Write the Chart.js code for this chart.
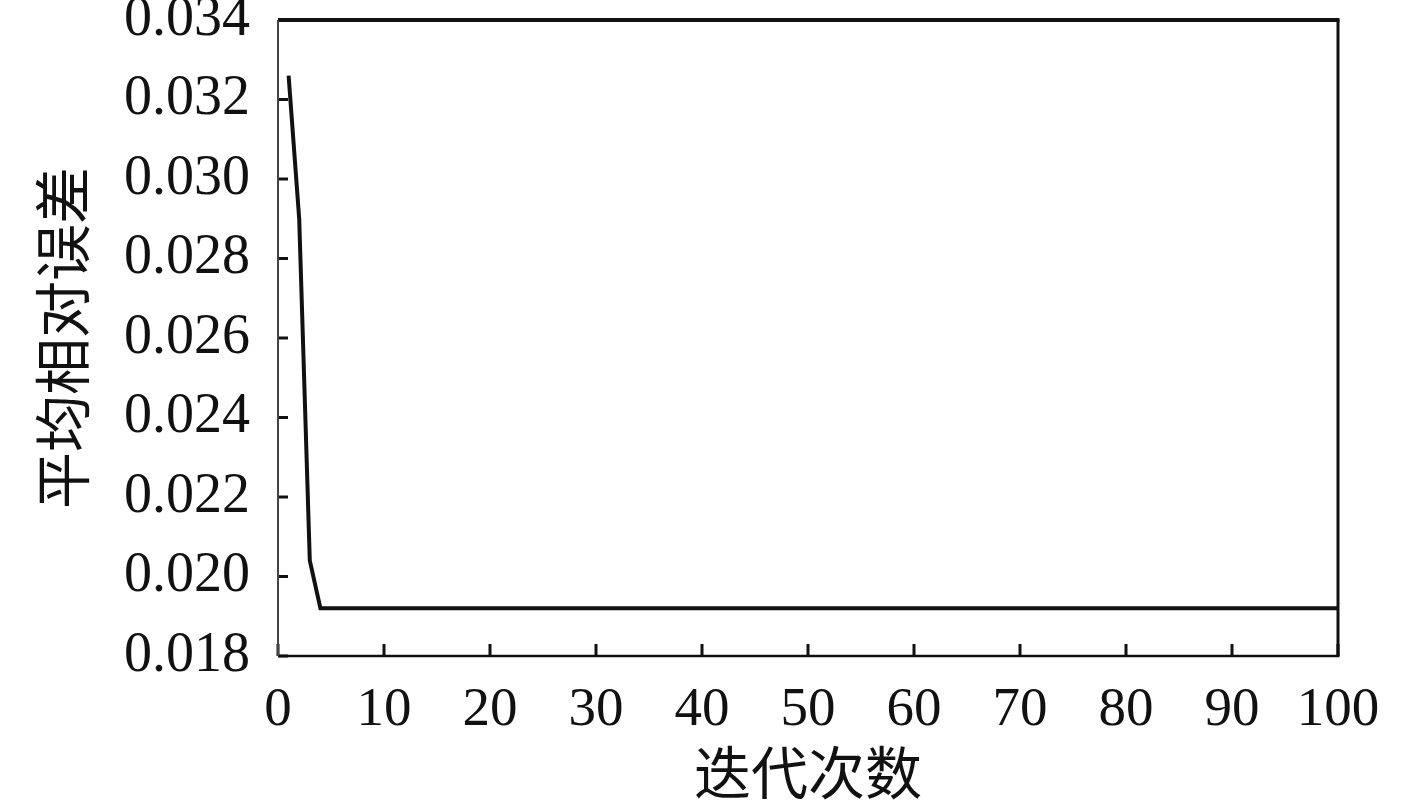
<!DOCTYPE html>
<html>
<head>
<meta charset="utf-8">
<script src="https://cdn.jsdelivr.net/npm/chart.js@4.4.0/dist/chart.umd.min.js"></script>
<style>
  html, body { margin: 0; padding: 0; background: #fff; }
  #wrap { width: 1417px; height: 801px; }
</style>
</head>
<body>
<div id="wrap"><canvas id="errChart" width="1417" height="801"></canvas></div>
<script>
// data
const iterations = [1, 2, 3, 4, 100];
const meanRelError = [0.0326, 0.0290, 0.0204, 0.0192, 0.0192];

const xTicks = [0, 10, 20, 30, 40, 50, 60, 70, 80, 90, 100];
const yTicks = [0.018, 0.020, 0.022, 0.024, 0.026, 0.028, 0.030, 0.032, 0.034];

const serif = "'Liberation Serif', 'Times New Roman', serif";
const cjk = "'Noto Sans CJK SC', sans-serif";

// frame + inward tick marks
const framePlugin = {
    id: 'frame',
    afterDatasetsDraw(chart) {
        const { ctx, chartArea: a, scales } = chart;
        ctx.save();
        ctx.strokeStyle = '#111';
        ctx.lineCap = 'butt';

        // y ticks (inward)
        ctx.lineWidth = 3;
        yTicks.forEach(v => {
            const y = scales.y.getPixelForValue(v);
            ctx.beginPath();
            ctx.moveTo(a.left, y);
            ctx.lineTo(a.left + 10, y);
            ctx.stroke();
        });
        // x ticks (inward)
        xTicks.forEach(v => {
            const x = scales.x.getPixelForValue(v);
            ctx.beginPath();
            ctx.moveTo(x, a.bottom);
            ctx.lineTo(x, a.bottom - 12);
            ctx.stroke();
        });

        // borders with slightly different weights like the original
        ctx.lineWidth = 4;
        ctx.beginPath(); ctx.moveTo(a.left, a.top); ctx.lineTo(a.right + 1.5, a.top); ctx.stroke();
        ctx.lineWidth = 3;
        ctx.beginPath(); ctx.moveTo(a.right, a.top); ctx.lineTo(a.right, a.bottom); ctx.stroke();
        ctx.lineWidth = 2.5;
        ctx.beginPath(); ctx.moveTo(a.left, a.bottom); ctx.lineTo(a.right + 1.5, a.bottom); ctx.stroke();
        ctx.strokeStyle = '#444';
        ctx.lineWidth = 2;
        ctx.beginPath(); ctx.moveTo(a.left, a.top); ctx.lineTo(a.left, a.bottom); ctx.stroke();
        ctx.restore();
    }
};

const ctx = document.getElementById('errChart').getContext('2d');
new Chart(ctx, {
    type: 'line',
    data: {
        datasets: [{
            data: iterations.map((x, i) => ({ x: x, y: meanRelError[i] })),
            borderColor: '#111',
            borderWidth: 4,
            pointRadius: 0,
            tension: 0,
            fill: false
        }]
    },
    options: {
        responsive: false,
        animation: false,
        layout: { padding: { top: 20, right: 79, bottom: 0, left: 0 } },
        plugins: {
            legend: { display: false },
            tooltip: { enabled: false }
        },
        scales: {
            x: {
                type: 'linear',
                min: 0,
                max: 100,
                afterFit: s => { s.height = 145; s.paddingLeft = 0; s.paddingRight = 0; },
                afterBuildTicks: s => { s.ticks = xTicks.map(v => ({ value: v })); },
                grid: { display: false, drawTicks: false },
                border: { display: false },
                ticks: {
                    padding: 22,
                    color: '#111',
                    maxRotation: 0,
                    font: { family: serif, size: 55 }
                },
                title: {
                    display: true,
                    text: '迭代次数',
                    color: '#111',
                    padding: 0,
                    font: { family: cjk, size: 57, lineHeight: 1 }
                }
            },
            y: {
                type: 'linear',
                min: 0.018,
                max: 0.034,
                afterFit: s => { s.width = 278; s.paddingTop = 0; s.paddingBottom = 0; },
                afterBuildTicks: s => { s.ticks = yTicks.map(v => ({ value: v })); },
                grid: { display: false, drawTicks: false },
                border: { display: false },
                ticks: {
                    padding: 28,
                    color: '#111',
                    font: { family: serif, size: 56 },
                    callback: v => v.toFixed(3)
                },
                title: {
                    display: true,
                    text: '平均相对误差',
                    color: '#111',
                    padding: { top: 34, bottom: 0 },
                    font: { family: cjk, size: 57, lineHeight: 1 }
                }
            }
        }
    },
    plugins: [framePlugin]
});
</script>
</body>
</html>
